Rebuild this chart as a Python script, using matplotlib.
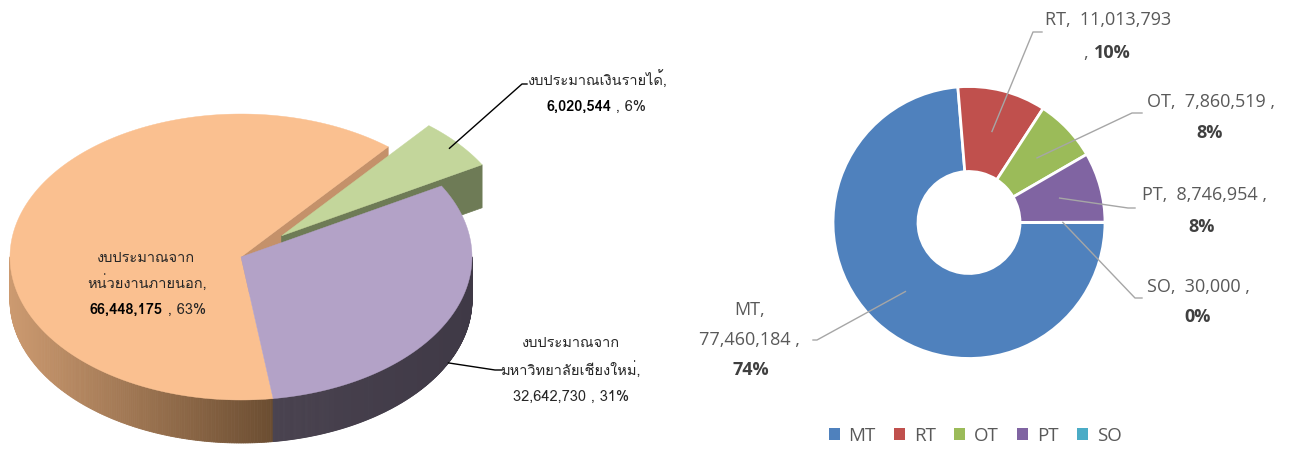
import numpy as np
import matplotlib
matplotlib.use('Agg')
import matplotlib.pyplot as plt
from matplotlib import font_manager
from matplotlib.ft2font import FT2Font
from matplotlib.patches import Polygon, Patch

# left chart: budget by source (3D pie)
src_labels = ['งบประมาณจาก\nหน่วยงานภายนอก,', 'งบประมาณเงินรายได้,', 'งบประมาณจาก\nมหาวิทยาลัยเชียงใหม่,']
src_values = [66448175, 6020544, 32642730]
src_pcts = [63, 6, 31]
src_colors = ['#FAC090', '#C3D69B', '#B3A2C7']
src_explode = [0, 0.23, 0]

# right chart: budget by type (donut)
type_labels = ['MT', 'RT', 'OT', 'PT', 'SO']
type_values = [77460184, 11013793, 7860519, 8746954, 30000]
type_pcts = [74, 10, 8, 8, 0]
type_colors = ['#4F81BD', '#C0504D', '#9BBB59', '#8064A2', '#4BACC6']


def thai_font():
    # pick an installed font with Thai glyphs, looped styles first
    found = []
    for f in font_manager.fontManager.ttflist:
        try:
            if 0x0E07 in FT2Font(f.fname).get_charmap():
                found.append(f.name)
        except Exception:
            continue
    prefs = ['Tahoma', 'Loma', 'Garuda', 'Noto Sans Thai Looped', 'Umpush', 'Waree',
             'Leelawadee', 'Noto Sans Thai']
    for p in prefs:
        for n in found:
            if n.startswith(p):
                return n
    return found[0] if found else 'DejaVu Sans'


TH = [thai_font(), 'DejaVu Sans']
LAT = ['Open Sans', 'DejaVu Sans']

W, H = 1289, 451
fig = plt.figure(figsize=(W / 100, H / 100), dpi=100)
ax = fig.add_axes([0, 0, 1, 1])
ax.set_xlim(0, W)
ax.set_ylim(H, 0)
ax.axis('off')

# ---- 3D pie ----
pcx, pcy, prx, pry, depth = 241, 257, 231, 143, 43
start = -82

fracs = np.array(src_values) / sum(src_values)
spans = fracs * 360
t0 = start - np.concatenate([[0], np.cumsum(spans)[:-1]])
t1 = t0 - spans
mids = (t0 + t1) / 2
offs = [(e * prx * np.cos(np.radians(m)), -e * pry * np.sin(np.radians(m)))
        for e, m in zip(src_explode, mids)]


def pt(t, i, r=1.0):
    ox, oy = offs[i]
    a = np.radians(t)
    return (pcx + ox + r * prx * np.cos(a), pcy + oy - r * pry * np.sin(a))


def top_face(i):
    ts = np.linspace(t0[i], t1[i], 200)
    pts = [pt(0, i, 0)] + [pt(t, i) for t in ts]
    ax.add_patch(Polygon(pts, closed=True, fc=src_colors[i], ec=src_colors[i], lw=0.3))


def radial_face(i, t, color):
    a = pt(0, i, 0)
    b = pt(t, i)
    pts = [a, b, (b[0], b[1] + depth), (a[0], a[1] + depth)]
    ax.add_patch(Polygon(pts, closed=True, fc=color, ec=color, lw=0.5))


def outer_wall(i, c_left, c_right):
    ts = np.linspace(t0[i], t1[i], 400)
    c_left, c_right = np.array(matplotlib.colors.to_rgb(c_left)), np.array(matplotlib.colors.to_rgb(c_right))
    xs = [pt(t, i)[0] for t in ts if np.sin(np.radians(t)) < 0]
    x_a, x_b = min(xs), max(xs)
    for a, b in zip(ts[:-1], ts[1:]):
        if np.sin(np.radians((a + b) / 2)) >= 0:
            continue
        p, q = pt(a, i), pt(b, i)
        f = ((p[0] + q[0]) / 2 - x_a) / max(x_b - x_a, 1)
        col = c_left + (c_right - c_left) * f
        ax.add_patch(Polygon([p, q, (q[0], q[1] + depth), (p[0], p[1] + depth)],
                             closed=True, fc=col, ec=col, lw=0.6))


radial_face(0, t1[0], '#C4916A')
radial_face(1, t1[1], '#6E7B56')
top_face(1)
outer_wall(0, '#CC9A70', '#6B4D31')
outer_wall(2, '#49424F', '#3F3946')
top_face(0)
top_face(2)

# labels of the 3D pie
lc = '#262626'
fs_l = 10.5
ax.text(146, 258, 'งบประมาณจาก', family=TH, fontsize=fs_l, color=lc, ha='center', va='center')
ax.text(147, 283, 'หน่วยงานภายนอก,', family=TH, fontsize=fs_l, color=lc, ha='center', va='center')
ax.text(163, 310, f'{src_values[0]:,}', family=TH, fontsize=fs_l, color='black', weight='bold', ha='right', va='center')
ax.text(163, 310, f' , {src_pcts[0]}%', family=TH, fontsize=fs_l, color=lc, ha='left', va='center')

p = pt(mids[1], 1, 0.95)
ax.plot([p[0], 522, 527], [p[1], 84, 84], color='black', lw=1)
ax.text(528, 80, src_labels[1], family=TH, fontsize=fs_l, color=lc, ha='left', va='center')
ax.text(611, 107, f'{src_values[1]:,}', family=TH, fontsize=fs_l, color='black', weight='bold', ha='right', va='center')
ax.text(611, 107, f' , {src_pcts[1]}%', family=TH, fontsize=fs_l, color=lc, ha='left', va='center')

p = pt(mids[2], 2)
ax.plot([p[0], 495, 502], [p[1] + depth, 370, 370], color='black', lw=1)
ax.text(571, 343, 'งบประมาณจาก', family=TH, fontsize=fs_l, color=lc, ha='center', va='center')
ax.text(570, 370, 'มหาวิทยาลัยเชียงใหม่,', family=TH, fontsize=fs_l, color=lc, ha='center', va='center')
ax.text(571, 397, f'{src_values[2]:,} , {src_pcts[2]}%', family=TH, fontsize=fs_l, color=lc, ha='center', va='center')

# ---- donut ----
dcx, dcy, u = 969, 222.5, 136
xr, yr = 2.2, 1.64
ax_r = fig.add_axes([(dcx - xr * u) / W, (H - dcy - yr * u) / H, 2 * xr * u / W, 2 * yr * u / H])
wedges, _ = ax_r.pie(type_values, colors=type_colors, startangle=0, counterclock=False,
                     radius=1, wedgeprops=dict(width=0.625, edgecolor='white', linewidth=2))
ax_r.set_aspect('auto')
ax_r.set_xlim(-xr, xr)
ax_r.set_ylim(-yr, yr)
ax_r.axis('off')


def d(px, py):
    return (px - dcx) / u, (dcy - py) / u


# leader bend and end for each slice
bends = [(817, 340, 813), (1033, 32, 1042), (1132, 113, 1142), (1128, 208, 1135), (1135, 298, 1142)]
gc, tc, bc = '#A6A6A6', '#595959', '#404040'
for k, w in enumerate(wedges):
    m = np.radians((w.theta1 + w.theta2) / 2)
    sx, sy = 0.69 * np.cos(m), 0.69 * np.sin(m)
    bx, by, ex = bends[k]
    b1, b2 = d(bx, by), d(ex, by)
    ax_r.plot([sx, b1[0], b2[0]], [sy, b1[1], b2[1]], color=gc, lw=1, clip_on=False)

fs = 13
ax_r.text(*d(765, 310), 'MT,', family=LAT, fontsize=fs, color=tc, ha='right', va='center')
ax_r.text(*d(800, 340), f'{type_values[0]:,} ,', family=LAT, fontsize=fs, color=tc, ha='right', va='center')
ax_r.text(*d(751, 370), f'{type_pcts[0]}%', family=LAT, fontsize=fs, color=bc, weight='bold', ha='center', va='center')

ax_r.text(*d(1045, 20), f'RT,  {type_values[1]:,}', family=LAT, fontsize=fs, color=tc, ha='left', va='center')
ax_r.text(*d(1093, 53), ', ', family=LAT, fontsize=fs, color=tc, ha='right', va='center')
ax_r.text(*d(1094, 53), f'{type_pcts[1]}%', family=LAT, fontsize=fs, color=bc, weight='bold', ha='left', va='center')

rows = [(2, 1147, 102, 1210, 133), (3, 1142, 195, 1202, 227), (4, 1147, 287, 1198, 317)]
for k, x1, y1, x2, y2 in rows:
    ax_r.text(*d(x1, y1), f'{type_labels[k]},  {type_values[k]:,} ,', family=LAT, fontsize=fs, color=tc, ha='left', va='center')
    ax_r.text(*d(x2, y2), f'{type_pcts[k]}%', family=LAT, fontsize=fs, color=bc, weight='bold', ha='center', va='center')

handles = [Patch(facecolor=c) for c in type_colors]
fig.legend(handles, type_labels, loc='center', bbox_to_anchor=(975 / W, 1 - 436 / H), ncol=5,
           frameon=False, prop=dict(family=LAT, size=13.5), labelcolor=tc,
           handlelength=0.59, handleheight=0.59, handletextpad=0.48, columnspacing=0.96)

fig.savefig('out.png', dpi=100)
